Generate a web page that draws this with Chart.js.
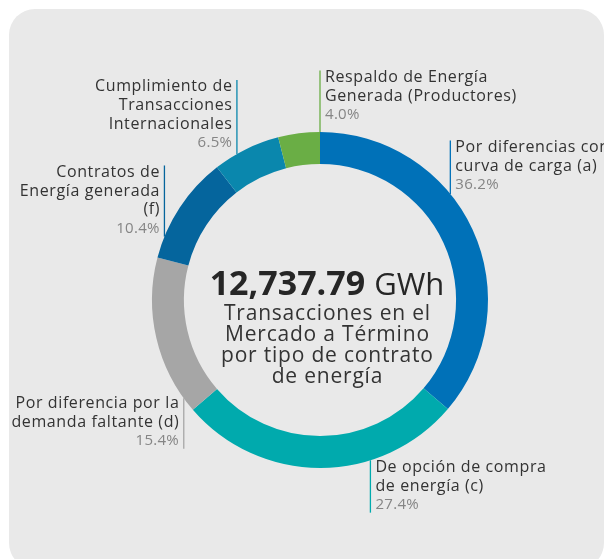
<!DOCTYPE html>
<html>
<head>
<meta charset="utf-8">
<script src="https://cdn.jsdelivr.net/npm/chart.js@4.4.1/dist/chart.umd.min.js"></script>
<style>
  html, body { margin: 0; padding: 0; background: #ffffff; }
  #wrap { position: relative; width: 604px; height: 559px; overflow: hidden; }
  #panel { position: absolute; left: 9px; top: 9px; width: 595px; height: 560px; background: #e9e9e9; border-radius: 26px; }
  #c { position: absolute; left: 0; top: 0; }
</style>
</head>
<body>
<div id="wrap">
  <div id="panel"></div>
  <canvas id="c" width="604" height="559"></canvas>
</div>
<script>
// ---- data ----
const categories = [
  "Por diferencias con curva de carga (a)",
  "De opción de compra de energía (c)",
  "Por diferencia por la demanda faltante (d)",
  "Contratos de Energía generada (f)",
  "Cumplimiento de Transacciones Internacionales",
  "Respaldo de Energía Generada (Productores)"
];
const shares = [36.2, 27.4, 15.4, 10.4, 6.5, 4.0];
const labelLines = [
  ["Por diferencias con", "curva de carga (a)"],
  ["De opción de compra", "de energía (c)"],
  ["Por diferencia por la", "demanda faltante (d)"],
  ["Contratos de", "Energía generada", "(f)"],
  ["Cumplimiento de", "Transacciones", "Internacionales"],
  ["Respaldo de Energía", "Generada (Productores)"]
];
const totalValue = "12,737.79";
const totalUnit = "GWh";
const centerLines = ["Transacciones en el", "Mercado a Término", "por tipo de contrato", "de energía"];

// ---- styles ----
const colors = ["#0071b8", "#00aaad", "#a6a6a6", "#05659d", "#0a87ad", "#6aae45"];
const FONT = "'Open Sans', 'Noto Sans', sans-serif";
// leader layout: where the line meets the ring (fraction of the arc), direction and text side
const leaders = [
  { f: 0.39, dir: "up",   side: "right", gap: 9 },
  { f: 0.325, dir: "down", side: "right", gap: 7 },
  { f: 0.09, dir: "down", side: "left",  gap: 5 },
  { f: 0.20, dir: "up",   side: "left",  gap: 8 },
  { f: 0.35, dir: "up",   side: "left",  gap: 11 },
  { f: 1.0,  dir: "up",   side: "right", gap: 17 }
];

function drawSpaced(ctx, text, x, y, align, spacing) {
  ctx.letterSpacing = spacing + "px";
  const w = ctx.measureText(text).width - spacing;
  ctx.textAlign = "left";
  let sx = x;
  if (align === "right") sx = x - w;
  else if (align === "center") sx = x - w / 2;
  ctx.fillText(text, sx, y);
  ctx.letterSpacing = "0px";
  return w;
}

const labelPlugin = {
  id: "labelPlugin",
  afterDatasetsDraw(chart) {
    const ctx = chart.ctx;
    const meta = chart.getDatasetMeta(0);
    const LH = 18.7;
    meta.data.forEach((el, i) => {
      const p = el.getProps(["x", "y", "startAngle", "endAngle", "outerRadius"], true);
      const L = leaders[i];
      const a = p.startAngle + L.f * (p.endAngle - p.startAngle);
      const rx = p.x + p.outerRadius * Math.cos(a);
      const ry = p.y + p.outerRadius * Math.sin(a);
      const lines = labelLines[i].concat([shares[i].toFixed(1) + "%"]);
      const n = lines.length;
      let firstC, lineTop, lineBot;
      if (L.dir === "up") {
        const lastC = ry - L.gap;
        firstC = lastC - (n - 1) * LH;
        lineTop = firstC - 7;
        lineBot = ry;
      } else {
        firstC = ry + L.gap;
        lineTop = ry;
        lineBot = firstC + (n - 1) * LH + 8;
      }
      ctx.save();
      ctx.strokeStyle = colors[i];
      ctx.lineWidth = 1.3;
      ctx.beginPath();
      ctx.moveTo(rx, lineTop);
      ctx.lineTo(rx, lineBot);
      ctx.stroke();
      ctx.textBaseline = "middle";
      const align = L.side === "right" ? "left" : "right";
      const tx = L.side === "right" ? rx + 5 : rx - 5;
      lines.forEach((t, k) => {
        const isPct = k === n - 1;
        ctx.font = (isPct ? "15px " : "16px ") + FONT;
        ctx.fillStyle = isPct ? "#858585" : "#333333";
        drawSpaced(ctx, t, tx, firstC + k * LH, align, isPct ? 0.3 : 0.6);
      });
      ctx.restore();
    });
    // center text
    const cx = meta.data[0].x + 7;
    const cy = meta.data[0].y;
    ctx.save();
    ctx.textBaseline = "alphabetic";
    ctx.fillStyle = "#262626";
    ctx.font = "bold 34px " + FONT;
    const w1 = ctx.measureText(totalValue).width;
    ctx.font = "31px " + FONT;
    const sp = 9;
    const w2 = ctx.measureText(totalUnit).width;
    const start = cx - (w1 + sp + w2) / 2;
    ctx.textAlign = "left";
    ctx.font = "bold 34px " + FONT;
    ctx.fillText(totalValue, start, cy - 5);
    ctx.font = "31px " + FONT;
    ctx.fillText(totalUnit, start + w1 + sp, cy - 5);
    ctx.font = "21px " + FONT;
    ctx.fillStyle = "#333333";
    centerLines.forEach((t, k) => drawSpaced(ctx, t, cx, cy + 19.5 + k * 21, "center", 0.8));
    ctx.restore();
  }
};

new Chart(document.getElementById("c"), {
  type: "doughnut",
  data: {
    labels: categories,
    datasets: [{ data: shares, backgroundColor: colors, borderWidth: 0, hoverOffset: 0 }]
  },
  options: {
    responsive: false,
    animation: false,
    devicePixelRatio: 1,
    cutout: "81%",
    layout: { padding: { left: 152, right: 116, top: 132, bottom: 91 } },
    plugins: { legend: { display: false }, tooltip: { enabled: false } },
    events: []
  },
  plugins: [labelPlugin]
});
</script>
</body>
</html>
